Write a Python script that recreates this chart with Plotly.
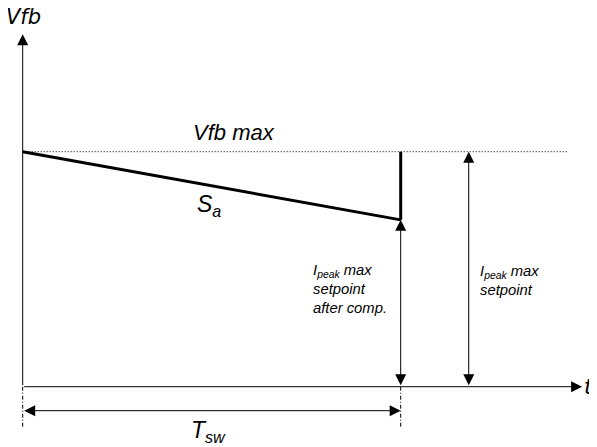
import plotly.graph_objects as go

# ---- diagram data (t in units of T_sw, Vfb in units of Vfb max) ----
t_ramp = [0.0, 1.0]            # ramp start / end time
vfb_ramp = [1.0, 0.71]         # Vfb along the compensation ramp
t_drop = [1.0, 1.0]            # vertical return to Vfb max at T_sw
vfb_drop = [0.71, 1.0]
vfb_max = 1.0
t_sw = 1.0
t_setpoint = 1.18              # position of the "Ipeak max setpoint" arrow
t_dotted_end = 1.44
t_axis_end = 1.48
vfb_axis_end = 1.5
y_tsw_arrow = -0.102
y_dash_end = -0.176

labels = {
    "vfb": "Vfb",
    "t": "t",
    "vfbmax": "Vfb max",
    "sa": "S<sub>a</sub>",
    "after": "I<sub>peak</sub> max<br>setpoint<br>after comp.",
    "setp": "I<sub>peak</sub> max<br>setpoint",
    "tsw": "T<sub>sw</sub>",
}

fig = go.Figure()

# ramp and drop
fig.add_trace(go.Scatter(x=t_ramp, y=vfb_ramp, mode="lines",
                         line=dict(color="black", width=3), hoverinfo="skip"))
fig.add_trace(go.Scatter(x=t_drop, y=vfb_drop, mode="lines",
                         line=dict(color="black", width=3), hoverinfo="skip"))

# dotted Vfb max line
fig.add_shape(type="line", xref="x", yref="y", x0=0, x1=t_dotted_end,
              y0=vfb_max, y1=vfb_max, line=dict(color="black", width=1, dash="1px,2px"))
# dash-dot verticals
for tx in [0.0, t_sw]:
    fig.add_shape(type="line", xref="x", yref="y", x0=tx, x1=tx, y0=0, y1=y_dash_end,
                  line=dict(color="black", width=1, dash="4px,2px,1px,2px"))

def arrow(x, y, ax, ay, both=False):
    fig.add_annotation(x=x, y=y, ax=ax, ay=ay, xref="x", yref="y", axref="x", ayref="y",
                       text="", showarrow=True, arrowhead=2, arrowsize=2.2, arrowwidth=1,
                       arrowcolor="black", arrowside="end+start" if both else "end",
                       standoff=0, startstandoff=0, startarrowhead=2, startarrowsize=2.2)

# axes
arrow(0, vfb_axis_end, 0, 0)
arrow(t_axis_end, 0, 0, 0)
# double arrows
arrow(t_sw, vfb_ramp[1], t_sw, 0, both=True)
arrow(t_setpoint, vfb_max, t_setpoint, 0, both=True)
arrow(t_sw, y_tsw_arrow, 0, y_tsw_arrow, both=True)

def label(x, y, text, size, family="Liberation Sans", xanchor="center", align="center"):
    fig.add_annotation(x=x, y=y, xref="x", yref="y", text=f"<i>{text}</i>", showarrow=False,
                       font=dict(family=family, size=size, color="black"),
                       xanchor=xanchor, yanchor="middle", align=align)

label(0.002, 1.573, labels["vfb"], 21, family="DejaVu Sans")
label(1.517, 0.003, labels["t"], 22, family="DejaVu Sans", xanchor="right")
label(0.56, 1.08, labels["vfbmax"], 22)
label(0.492, 0.77, labels["sa"], 23)
label(0.763, 0.416, labels["after"], 14.8, xanchor="left", align="left")
label(1.205, 0.454, labels["setp"], 14.8, xanchor="left", align="left")
label(0.492, -0.19, labels["tsw"], 23)

# the page body adds an 8px offset, so ranges are shifted to compensate
fig.update_layout(
    width=597, height=447, margin=dict(l=0, r=0, t=0, b=0),
    paper_bgcolor="white", plot_bgcolor="white", showlegend=False,
    xaxis=dict(range=[-0.0389, 1.5405], visible=False, fixedrange=True),
    yaxis=dict(range=[-0.2906, 1.6115], visible=False, fixedrange=True),
)
fig.write_html("out.html")
